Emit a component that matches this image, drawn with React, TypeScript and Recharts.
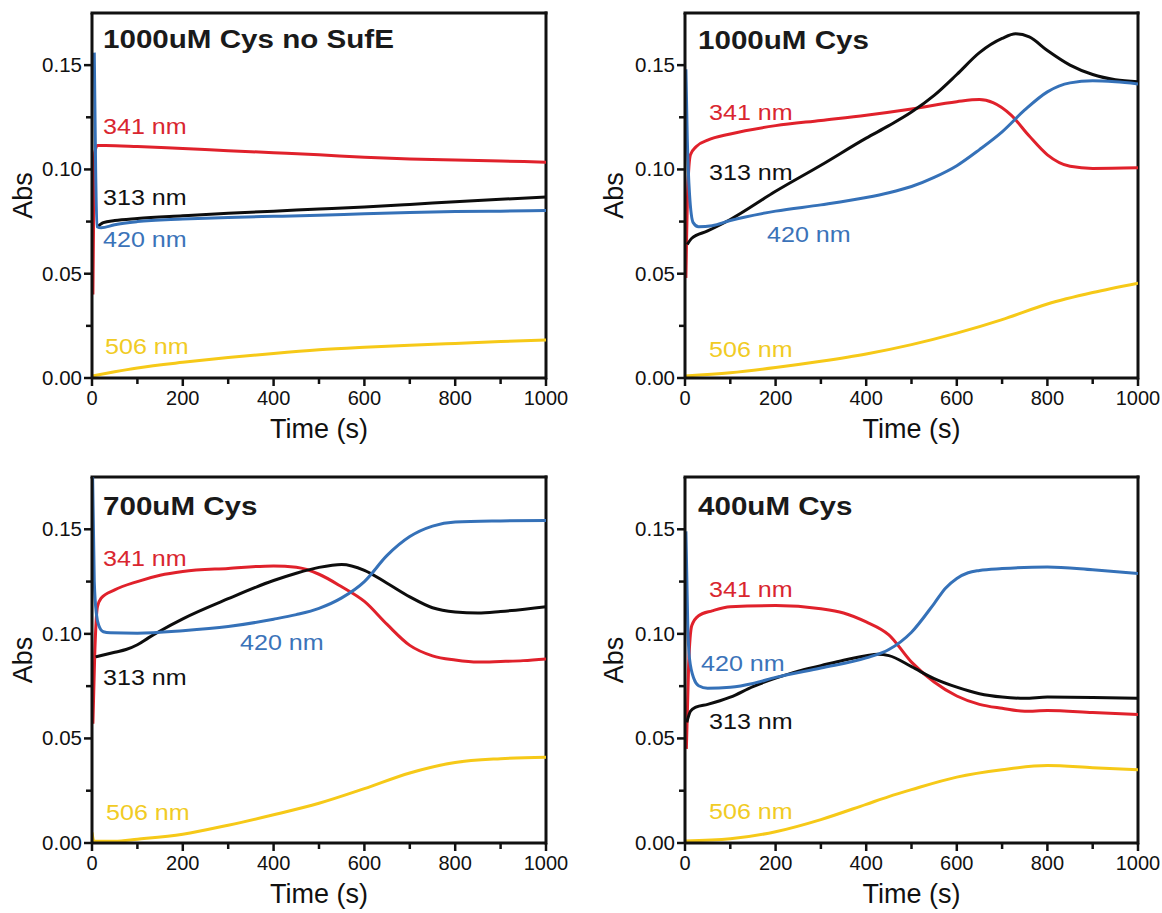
import React from 'react';
import { LineChart, Line, XAxis, YAxis, ReferenceLine, Label } from 'recharts';

// ---- Axis ticks ----
const timeTicks = [0, 100, 200, 300, 400, 500, 600, 700, 800, 900, 1000];
const absTicks = [0, 0.025, 0.05, 0.075, 0.1, 0.125, 0.15];
const timeDomain = [0, 1000];
const absDomain = [0, 0.175];

// ---- 1000uM Cys, no SufE : [time (s), Abs] ----
const noSufE_341 = [[2, 0.040], [6, 0.108], [12, 0.1115], [30, 0.1115], [100, 0.111], [200, 0.110], [300, 0.109], [400, 0.108], [500, 0.107], [600, 0.1058], [700, 0.105], [800, 0.1045], [900, 0.104], [1000, 0.1035]];
const noSufE_313 = [[12, 0.0725], [25, 0.0745], [50, 0.0755], [100, 0.0765], [200, 0.0778], [300, 0.079], [400, 0.080], [500, 0.081], [600, 0.082], [700, 0.0832], [800, 0.0845], [900, 0.0857], [1000, 0.0868]];
const noSufE_420 = [[5, 0.156], [8, 0.100], [11, 0.0725], [20, 0.072], [50, 0.0735], [100, 0.075], [200, 0.0762], [300, 0.077], [400, 0.0775], [500, 0.078], [600, 0.0787], [700, 0.0793], [800, 0.0798], [900, 0.080], [1000, 0.0803]];
const noSufE_506 = [[0, 0.001], [50, 0.003], [100, 0.0048], [200, 0.0075], [300, 0.0098], [400, 0.0118], [500, 0.0135], [600, 0.0147], [700, 0.0157], [800, 0.0166], [900, 0.0175], [1000, 0.0182]];

// ---- 1000uM Cys ----
const cys1000_341 = [[2, 0.048], [6, 0.090], [12, 0.107], [25, 0.111], [50, 0.114], [100, 0.117], [200, 0.121], [300, 0.1235], [400, 0.126], [500, 0.129], [600, 0.1325], [650, 0.1335], [680, 0.132], [720, 0.126], [760, 0.116], [800, 0.107], [850, 0.1015], [900, 0.1005], [1000, 0.1008]];
const cys1000_313 = [[5, 0.064], [15, 0.067], [50, 0.0705], [100, 0.076], [200, 0.0895], [300, 0.102], [400, 0.115], [450, 0.121], [500, 0.1275], [550, 0.1355], [600, 0.1455], [650, 0.156], [700, 0.1628], [730, 0.165], [760, 0.1635], [800, 0.157], [850, 0.150], [900, 0.1455], [950, 0.143], [1000, 0.142]];
const cys1000_420 = [[2, 0.148], [5, 0.115], [10, 0.088], [18, 0.0745], [30, 0.0725], [60, 0.073], [100, 0.0755], [200, 0.080], [300, 0.083], [400, 0.0865], [450, 0.0888], [500, 0.0918], [550, 0.0962], [600, 0.1018], [650, 0.1095], [700, 0.118], [750, 0.1285], [800, 0.1372], [850, 0.1415], [900, 0.1425], [950, 0.142], [1000, 0.141]];
const cys1000_506 = [[0, 0.001], [100, 0.0025], [200, 0.005], [300, 0.008], [400, 0.0115], [500, 0.016], [600, 0.0215], [700, 0.028], [800, 0.0355], [900, 0.041], [1000, 0.0455]];

// ---- 700uM Cys ----
const cys700_341 = [[2, 0.057], [6, 0.090], [12, 0.113], [20, 0.117], [50, 0.121], [100, 0.125], [150, 0.128], [200, 0.1298], [300, 0.1313], [400, 0.1325], [450, 0.1318], [500, 0.1285], [550, 0.1225], [600, 0.1155], [650, 0.1045], [700, 0.0945], [750, 0.0895], [800, 0.0875], [850, 0.0865], [900, 0.0868], [950, 0.0872], [1000, 0.088]];
const cys700_313 = [[8, 0.089], [50, 0.0912], [75, 0.0925], [100, 0.0948], [125, 0.0982], [150, 0.1014], [200, 0.1072], [300, 0.1168], [400, 0.1255], [450, 0.129], [500, 0.1318], [550, 0.1332], [600, 0.1304], [650, 0.1242], [700, 0.1177], [750, 0.1125], [800, 0.1105], [850, 0.110], [900, 0.1107], [1000, 0.113]];
const cys700_420 = [[1, 0.180], [5, 0.125], [10, 0.109], [15, 0.104], [25, 0.101], [40, 0.1005], [100, 0.1003], [200, 0.1015], [300, 0.1035], [400, 0.107], [450, 0.1092], [500, 0.1122], [550, 0.1172], [600, 0.125], [650, 0.1375], [700, 0.1465], [750, 0.1515], [800, 0.1535], [900, 0.154], [1000, 0.1542]];
const cys700_506 = [[0, 0.005], [4, 0.001], [50, 0.0008], [100, 0.0018], [200, 0.0042], [300, 0.0085], [400, 0.0135], [500, 0.019], [600, 0.026], [700, 0.0335], [800, 0.0385], [900, 0.0403], [1000, 0.041]];

// ---- 400uM Cys ----
const cys400_341 = [[3, 0.045], [8, 0.085], [15, 0.104], [30, 0.1087], [60, 0.111], [100, 0.113], [200, 0.1135], [300, 0.112], [350, 0.110], [400, 0.1057], [450, 0.0995], [500, 0.0865], [550, 0.077], [600, 0.0703], [650, 0.0663], [700, 0.0644], [750, 0.063], [800, 0.0633], [900, 0.0624], [1000, 0.0615]];
const cys400_313 = [[4, 0.0577], [12, 0.063], [24, 0.065], [50, 0.0663], [100, 0.0697], [150, 0.0748], [200, 0.0788], [250, 0.0822], [300, 0.0848], [350, 0.0874], [400, 0.0895], [425, 0.0902], [450, 0.0896], [500, 0.0843], [550, 0.0786], [600, 0.0745], [650, 0.0714], [700, 0.0698], [750, 0.0692], [800, 0.0698], [900, 0.0696], [1000, 0.0692]];
const cys400_420 = [[2, 0.149], [6, 0.105], [10, 0.088], [20, 0.0784], [30, 0.0752], [50, 0.074], [100, 0.0745], [150, 0.0763], [200, 0.0792], [300, 0.0837], [400, 0.0885], [450, 0.0925], [500, 0.1008], [550, 0.1145], [575, 0.1218], [600, 0.1265], [625, 0.1292], [650, 0.1303], [700, 0.1312], [800, 0.132], [900, 0.1306], [1000, 0.1288]];
const cys400_506 = [[0, 0.001], [100, 0.002], [200, 0.0054], [300, 0.0112], [400, 0.0185], [450, 0.0222], [500, 0.0255], [600, 0.0315], [700, 0.0350], [800, 0.037], [900, 0.036], [1000, 0.035]];

const FONT = '"Liberation Sans", Arial, Helvetica, sans-serif';
const INK = '#111111';

const COLORS = {
  red: '#e0212b',
  black: '#0d0d0d',
  blue: '#3571b8',
  yellow: '#f6c918',
};
const TEXT_COLORS = {
  red: '#d9262f',
  black: '#111111',
  blue: '#3b73b9',
  yellow: '#f1cb24',
};

type ColorKey = keyof typeof COLORS;

const toPoints = (rows: number[][]) => rows.map(([t, v]) => ({ t, v }));

const TimeTick = (props: any) => {
  const { x, y, payload } = props;
  const major = payload.value % 200 === 0;
  return (
    <g>
      <line x1={x} y1={y} x2={x} y2={y + (major ? 8 : 6)} stroke={INK} strokeWidth={2.5} />
      {major && (
        <text x={x} y={y + 27} textAnchor="middle" fontSize={20} fill={INK} fontFamily={FONT}>
          {payload.value}
        </text>
      )}
    </g>
  );
};

const AbsTick = (props: any) => {
  const { x, y, payload } = props;
  const major = Math.round(payload.value * 1000) % 50 === 0;
  return (
    <g>
      <line x1={x - (major ? 8 : 6)} y1={y} x2={x} y2={y} stroke={INK} strokeWidth={2.5} />
      {major && (
        <text x={x - 10} y={y + 7} textAnchor="end" fontSize={20.5} fill={INK} fontFamily={FONT}>
          {payload.value.toFixed(2)}
        </text>
      )}
    </g>
  );
};

type SeriesDef = { rows: number[][]; color: ColorKey };
type TextDef = { text: string; x: number; y: number; color: ColorKey };

type PanelProps = {
  left: number;
  top: number;
  width: number;
  height: number;
  marginRight: number;
  xAxisHeight: number;
  timeLabelOffset: number;
  absLabelOffset: number;
  title: string;
  titleX: number;
  titleY: number;
  series: SeriesDef[];
  texts: TextDef[];
};

const Panel = (p: PanelProps) => (
  <div style={{ position: 'absolute', left: p.left, top: p.top, width: p.width, height: p.height }}>
    <LineChart
      width={p.width}
      height={p.height}
      margin={{ top: 13, right: p.marginRight, left: 0, bottom: 0 }}
      style={{ fontFamily: FONT }}
    >
      <XAxis
        dataKey="t"
        type="number"
        domain={timeDomain}
        ticks={timeTicks}
        interval={0}
        allowDataOverflow
        height={p.xAxisHeight}
        axisLine={{ stroke: INK, strokeWidth: 3 }}
        tickLine={false}
        tickSize={0}
        tickMargin={0}
        tick={<TimeTick />}
      >
        <Label
          value="Time (s)"
          position="insideBottom"
          offset={p.timeLabelOffset}
          style={{ fontSize: 27, fill: INK, fontFamily: FONT }}
        />
      </XAxis>
      <YAxis
        dataKey="v"
        type="number"
        domain={absDomain}
        ticks={absTicks}
        interval={0}
        allowDataOverflow
        width={92}
        axisLine={{ stroke: INK, strokeWidth: 3 }}
        tickLine={false}
        tickSize={0}
        tickMargin={0}
        tick={<AbsTick />}
      >
        <Label
          value="Abs"
          angle={-90}
          position="insideLeft"
          offset={p.absLabelOffset}
          style={{ fontSize: 27, fill: INK, fontFamily: FONT, textAnchor: 'middle' }}
        />
      </YAxis>
      <ReferenceLine y={0.175} stroke={INK} strokeWidth={3} strokeLinecap="square" />
      <ReferenceLine x={1000} stroke={INK} strokeWidth={3} strokeLinecap="square" />
      {p.series.map((s, i) => (
        <Line
          key={i}
          data={toPoints(s.rows)}
          dataKey="v"
          type="monotone"
          stroke={COLORS[s.color]}
          strokeWidth={3}
          dot={false}
          activeDot={false}
          isAnimationActive={false}
        />
      ))}
    </LineChart>
    <svg
      width={p.width}
      height={p.height}
      style={{ position: 'absolute', left: 0, top: 0, pointerEvents: 'none', overflow: 'visible' }}
    >
      <text
        transform={`translate(${p.titleX},${p.titleY}) scale(1.16,1)`}
        fontSize={25.5}
        fontWeight="bold"
        fill="#1a1a1a"
        fontFamily={FONT}
      >
        {p.title}
      </text>
      {p.texts.map((t, i) => (
        <text
          key={i}
          transform={`translate(${t.x},${t.y}) scale(1.14,1)`}
          fontSize={22}
          fill={TEXT_COLORS[t.color]}
          fontFamily={FONT}
        >
          {t.text}
        </text>
      ))}
    </svg>
  </div>
);

export default function App() {
  return (
    <div style={{ position: 'absolute', left: 0, top: 0, width: 1162, height: 913, background: '#ffffff' }}>
      <Panel
        left={0}
        top={0}
        width={580}
        height={456}
        marginRight={34}
        xAxisHeight={78}
        timeLabelOffset={18}
        absLabelOffset={22}
        title="1000uM Cys no SufE"
        titleX={103}
        titleY={48}
        series={[
          { rows: noSufE_506, color: 'yellow' },
          { rows: noSufE_341, color: 'red' },
          { rows: noSufE_313, color: 'black' },
          { rows: noSufE_420, color: 'blue' },
        ]}
        texts={[
          { text: '341 nm', x: 103, y: 134, color: 'red' },
          { text: '313 nm', x: 103, y: 205, color: 'black' },
          { text: '420 nm', x: 103, y: 247, color: 'blue' },
          { text: '506 nm', x: 105, y: 354, color: 'yellow' },
        ]}
      />
      <Panel
        left={593}
        top={0}
        width={569}
        height={456}
        marginRight={24}
        xAxisHeight={78}
        timeLabelOffset={18}
        absLabelOffset={20}
        title="1000uM Cys"
        titleX={105}
        titleY={49}
        series={[
          { rows: cys1000_506, color: 'yellow' },
          { rows: cys1000_341, color: 'red' },
          { rows: cys1000_313, color: 'black' },
          { rows: cys1000_420, color: 'blue' },
        ]}
        texts={[
          { text: '341 nm', x: 116, y: 120, color: 'red' },
          { text: '313 nm', x: 116, y: 180, color: 'black' },
          { text: '420 nm', x: 174, y: 242, color: 'blue' },
          { text: '506 nm', x: 116, y: 357, color: 'yellow' },
        ]}
      />
      <Panel
        left={0}
        top={464}
        width={580}
        height={449}
        marginRight={34}
        xAxisHeight={70}
        timeLabelOffset={10}
        absLabelOffset={22}
        title="700uM Cys"
        titleX={103}
        titleY={51}
        series={[
          { rows: cys700_506, color: 'yellow' },
          { rows: cys700_341, color: 'red' },
          { rows: cys700_313, color: 'black' },
          { rows: cys700_420, color: 'blue' },
        ]}
        texts={[
          { text: '341 nm', x: 103, y: 102, color: 'red' },
          { text: '420 nm', x: 240, y: 186, color: 'blue' },
          { text: '313 nm', x: 103, y: 221, color: 'black' },
          { text: '506 nm', x: 106, y: 356, color: 'yellow' },
        ]}
      />
      <Panel
        left={593}
        top={464}
        width={569}
        height={449}
        marginRight={24}
        xAxisHeight={70}
        timeLabelOffset={10}
        absLabelOffset={20}
        title="400uM Cys"
        titleX={105}
        titleY={51}
        series={[
          { rows: cys400_506, color: 'yellow' },
          { rows: cys400_341, color: 'red' },
          { rows: cys400_313, color: 'black' },
          { rows: cys400_420, color: 'blue' },
        ]}
        texts={[
          { text: '341 nm', x: 116, y: 133, color: 'red' },
          { text: '420 nm', x: 108, y: 207, color: 'blue' },
          { text: '313 nm', x: 116, y: 265, color: 'black' },
          { text: '506 nm', x: 116, y: 355, color: 'yellow' },
        ]}
      />
    </div>
  );
}
